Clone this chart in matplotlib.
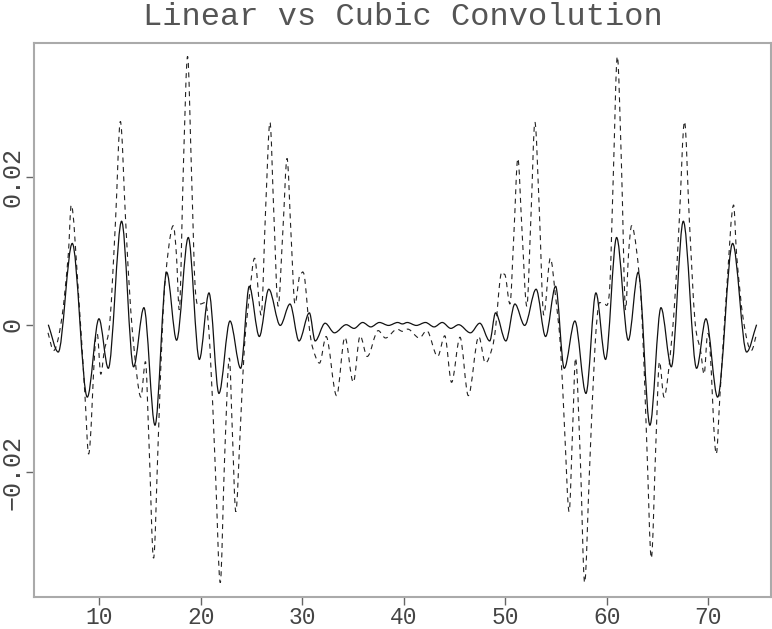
import matplotlib
matplotlib.use("Agg")
import matplotlib.pyplot as plt
from matplotlib.path import Path
from matplotlib.patches import PathPatch

# solid curve (cubic convolution), extrema
x_solid = [4.98, 5.96, 7.34, 8.82, 9.97, 10.89, 12.20, 13.38, 14.40, 15.49,
           16.64, 17.62, 18.77, 19.86, 20.81, 21.79, 22.88, 23.93, 24.78, 25.77,
           26.70, 27.83, 28.79, 29.68, 30.70, 31.27, 32.25, 33.17, 34.33, 35.10,
           35.95, 36.75, 37.60, 38.50, 39.40, 39.87,
           40.34, 41.24, 42.14, 42.99, 43.79, 44.64, 45.41, 46.57, 47.49, 48.47,
           49.04, 50.06, 50.95, 51.91, 53.04, 53.97, 54.96, 55.81, 56.86, 57.95,
           58.93, 59.88, 60.97, 62.12, 63.10, 64.25, 65.34, 66.36, 67.54, 68.85,
           69.77, 70.92, 72.40, 73.78, 74.76]
y_solid = [0.0000, -0.0037, 0.0110, -0.0098, 0.0008, -0.0059, 0.0140, -0.0057, 0.0023, -0.0136,
           0.0071, -0.0021, 0.0118, -0.0047, 0.0043, -0.0093, 0.0005, -0.0059, 0.0052, -0.0016,
           0.0048, -0.0001, 0.0028, -0.0022, 0.0016, -0.0022, 0.0002, -0.0011, 0.0000, -0.0005,
           0.0003, -0.0003, 0.0003, -0.0001, 0.0003, 0.0001,
           0.0003, -0.0001, 0.0003, -0.0003, 0.0003, -0.0005, 0.0000, -0.0011, 0.0002, -0.0022,
           0.0016, -0.0022, 0.0028, -0.0001, 0.0048, -0.0016, 0.0052, -0.0059, 0.0005, -0.0093,
           0.0043, -0.0047, 0.0118, -0.0021, 0.0071, -0.0136, 0.0023, -0.0057, 0.0140, -0.0059,
           0.0008, -0.0098, 0.0110, -0.0037, 0.0000]

# dashed curve (linear convolution)
x_dash = [4.95, 5.50, 6.30, 6.95, 7.24, 7.93, 8.60, 8.95, 9.60, 9.80,
          10.15, 10.50, 11.05, 11.60, 12.08, 12.60, 13.10, 13.70, 14.10, 14.55,
          14.90, 15.35, 15.80, 16.30, 16.80, 17.29, 17.60, 17.88, 18.30, 18.70,
          19.10, 19.45, 19.95, 20.45, 20.90, 21.45, 21.92, 22.35, 22.82, 23.10,
          23.45, 23.90, 24.30, 24.80, 25.30, 25.95, 26.40, 26.82, 27.20, 27.62,
          28.10, 28.50, 28.90, 29.28, 29.80, 30.20, 30.70, 31.00, 31.70, 32.35,
          33.38, 34.20, 35.03, 35.70, 36.40, 37.48, 38.20, 39.35, 39.87,
          40.39, 41.54, 42.26, 43.34, 44.04, 44.71, 45.54, 46.36, 47.39, 48.04,
          48.74, 49.04, 49.54, 49.94, 50.46, 50.84, 51.24, 51.64, 52.12, 52.54,
          52.92, 53.34, 53.79, 54.44, 54.94, 55.44, 55.84, 56.29, 56.64, 56.92,
          57.39, 57.82, 58.29, 58.84, 59.29, 59.79, 60.29, 60.64, 61.04, 61.44,
          61.86, 62.14, 62.45, 62.94, 63.44, 63.94, 64.39, 64.84, 65.19, 65.64,
          66.04, 66.64, 67.14, 67.66, 68.14, 68.69, 69.24, 69.59, 69.94, 70.14,
          70.79, 71.14, 71.81, 72.50, 72.79, 73.44, 74.24, 74.79]
y_dash = [-0.0011, -0.0035, 0.0008, 0.0095, 0.0162, 0.0047, -0.0098, -0.0175, -0.0025, -0.0012,
          -0.0067, -0.0035, 0.0005, 0.0140, 0.0275, 0.0140, 0.0020, -0.0068, -0.0098, -0.0050,
          -0.0160, -0.0316, -0.0160, 0.0020, 0.0100, 0.0134, 0.0095, 0.0020, 0.0220, 0.0363,
          0.0200, 0.0050, 0.0028, 0.0030, -0.0030, -0.0200, -0.0349, -0.0180, -0.0045, -0.0140,
          -0.0253, -0.0140, -0.0030, 0.0040, 0.0090, 0.0013, 0.0160, 0.0274, 0.0150, 0.0025,
          0.0130, 0.0225, 0.0120, 0.0028, 0.0068, 0.0066, -0.0005, -0.0030, -0.0052, -0.0016,
          -0.0096, -0.0017, -0.0078, -0.0015, -0.0043, -0.0008, -0.0018, -0.0006, -0.0009,
          -0.0006, -0.0018, -0.0008, -0.0043, -0.0015, -0.0078, -0.0017, -0.0096, -0.0016, -0.0052,
          -0.0030, -0.0005, 0.0066, 0.0068, 0.0028, 0.0120, 0.0225, 0.0130, 0.0025, 0.0150,
          0.0274, 0.0160, 0.0013, 0.0090, 0.0040, -0.0030, -0.0140, -0.0253, -0.0140, -0.0045,
          -0.0180, -0.0349, -0.0200, -0.0030, 0.0030, 0.0028, 0.0050, 0.0200, 0.0363, 0.0220,
          0.0020, 0.0095, 0.0134, 0.0100, 0.0020, -0.0160, -0.0316, -0.0160, -0.0050, -0.0098,
          -0.0068, 0.0020, 0.0140, 0.0275, 0.0140, 0.0005, -0.0035, -0.0067, -0.0012, -0.0025,
          -0.0175, -0.0098, 0.0047, 0.0162, 0.0095, 0.0008, -0.0035, -0.0011]

x_ticks = [10, 20, 30, 40, 50, 60, 70]
y_ticks = [-0.02, 0, 0.02]
y_tick_labels = ["\u22120.02", "0", "0.02"]
title = "Linear vs Cubic Convolution"


def smooth_path(xs, ys):
    # cubic bezier through the read points; flat tangent at local extrema
    n = len(xs)
    slopes = []
    for i in range(n):
        if i == 0:
            m = (ys[1] - ys[0]) / (xs[1] - xs[0])
        elif i == n - 1:
            m = (ys[-1] - ys[-2]) / (xs[-1] - xs[-2])
        else:
            d0 = ys[i] - ys[i - 1]
            d1 = ys[i + 1] - ys[i]
            if d0 * d1 <= 0:
                m = 0.0
            else:
                m = (ys[i + 1] - ys[i - 1]) / (xs[i + 1] - xs[i - 1])
        slopes.append(m)
    verts = [(xs[0], ys[0])]
    codes = [Path.MOVETO]
    for i in range(n - 1):
        dx = xs[i + 1] - xs[i]
        verts.append((xs[i] + dx / 3, ys[i] + slopes[i] * dx / 3))
        verts.append((xs[i + 1] - dx / 3, ys[i + 1] - slopes[i + 1] * dx / 3))
        verts.append((xs[i + 1], ys[i + 1]))
        codes += [Path.CURVE4] * 3
    return Path(verts, codes)


fig = plt.figure(figsize=(7.72, 6.29), dpi=100)
ax = fig.add_axes([0.044, 0.0504, 0.9547, 0.8817])

ax.add_patch(PathPatch(smooth_path(x_dash, y_dash), fill=False, edgecolor="#222222",
                       linewidth=0.8, linestyle=(0, (4.5, 4))))
ax.add_patch(PathPatch(smooth_path(x_solid, y_solid), fill=False, edgecolor="#111111",
                       linewidth=0.9))

ax.set_xlim(3.567, 76.18)
ax.set_ylim(-0.03689, 0.03816)

for s in ax.spines.values():
    s.set_color("#aaaaaa")
    s.set_linewidth(1.5)

font = "Liberation Mono"
ax.set_xticks(x_ticks)
ax.set_xticklabels([str(t) for t in x_ticks], fontfamily=font, fontsize=16.5, color="#444444")
ax.set_yticks(y_ticks)
ax.set_yticklabels(y_tick_labels, fontfamily=font, fontsize=18, color="#444444",
                   rotation=90, va="center")
ax.tick_params(axis="both", direction="out", length=6.0, width=1.0, color="#666666")
ax.tick_params(axis="x", pad=0.5)
ax.tick_params(axis="y", pad=1.0)

ax.set_title(title, fontfamily=font, fontsize=23, color="#555555", pad=12.7)

fig.savefig("out.png", dpi=100)
plt.close(fig)
